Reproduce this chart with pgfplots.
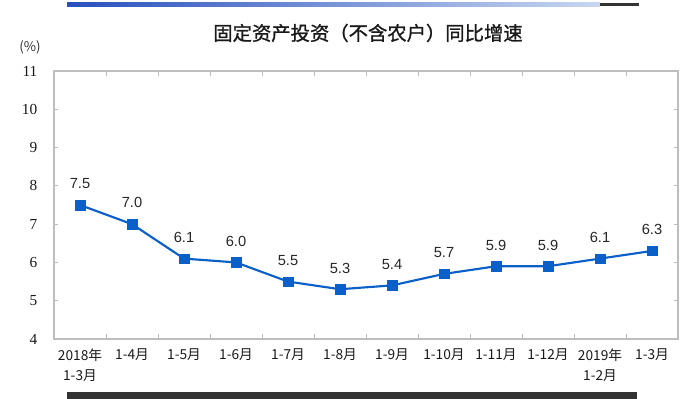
\documentclass[border=0pt]{standalone}
\usepackage{pgfplots}
\pgfplotsset{compat=1.18}
\usepackage{pgfplotstable}
\usepackage{fontspec}
\setmainfont{Liberation Sans}
\newfontfamily\cjk{Noto Sans CJK SC}
\newfontfamily\cjkm[FakeBold=1.2]{Noto Sans CJK SC}
\newfontfamily\serif{Liberation Serif}
\definecolor{lineblue}{RGB}{10,96,200}
\definecolor{framegray}{RGB}{190,190,190}
\pgfplotstableread{
x y lab
0 7.5 7.5
1 7.0 7.0
2 6.1 6.1
3 6.0 6.0
4 5.5 5.5
5 5.3 5.3
6 5.4 5.4
7 5.7 5.7
8 5.9 5.9
9 5.9 5.9
10 6.1 6.1
11 6.3 6.3
}\datatable
\begin{document}
\begin{tikzpicture}[x=0.75pt,y=0.75pt]
\useasboundingbox (0,0) rectangle (700,399);
\shade[left color={rgb,255:red,40;green,80;blue,190}, right color={rgb,255:red,200;green,215;blue,240}] (67,392) rectangle (600,396);
\fill[black!80] (600,392.5) rectangle (639,395.5);
\fill[black!80] (67,0) rectangle (637,7);
\node[font=\cjkm\fontsize{14.5}{16}\selectfont, text=black!90] at (368,366) {固定资产投资（不含农户）同比增速};
\node[font=\cjk\fontsize{10}{12}\selectfont, text=black!80] at (30,352) {(\%)};
\begin{axis}[
  at={(40.5pt,45pt)}, anchor=south west,
  width=468pt, height=201pt, scale only axis,
  xmin=-0.5, xmax=11.5, ymin=4, ymax=11,
  axis line style={framegray, line width=0.8pt},
  xtick={0,...,11},
  xticklabels={{2018年\\1-3月},1-4月,1-5月,1-6月,1-7月,1-8月,1-9月,1-10月,1-11月,1-12月,{2019年\\1-2月},1-3月},
  xticklabel style={font=\cjk\fontsize{10.3}{15}\selectfont, align=center, text=black!90, yshift=-4pt},
  minor xtick={-0.5,0.5,...,11.5},
  major x tick style={draw=none},
  minor tick length=4pt,
  tick align=inside,
  ytick={4,...,11},
  major tick length=3pt,
  every tick/.style={framegray, line width=0.6pt},
  yticklabel style={font=\serif\fontsize{11.5}{12}\selectfont, text=black!90, xshift=-9pt},
  /pgf/number format/assume math mode=true,
  clip=false,
]
\addplot[color=lineblue, line width=1.6pt, mark=square*, mark size=3.6pt,
  mark options={fill=lineblue, draw=lineblue, line width=0.4pt},
  point meta=explicit symbolic, nodes near coords,
  every node near coord/.append style={font=\fontsize{11}{13}\selectfont, text=black!85, anchor=south, yshift=8.5pt}]
  table[x=x, y=y, meta=lab] {\datatable};
\end{axis}
\end{tikzpicture}
\end{document}
